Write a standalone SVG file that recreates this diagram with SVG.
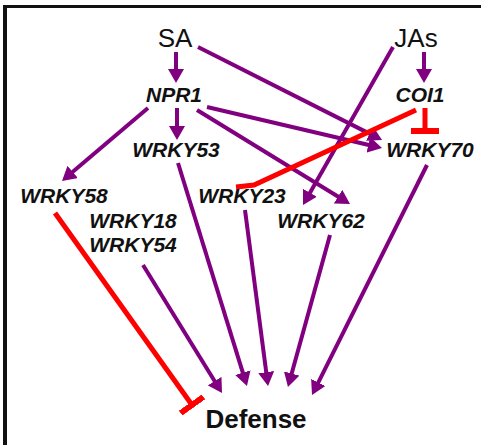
<svg xmlns="http://www.w3.org/2000/svg" width="481" height="445" viewBox="0 0 481 445">
<style>
  .lbl { font-family: "Liberation Sans", Arial, sans-serif; font-size: 26px; fill: #111; text-anchor: middle; }
  .gene { font-family: "Liberation Sans", Arial, sans-serif; font-size: 21px; font-weight: bold; font-style: italic; fill: #111; text-anchor: middle; }
  .act { stroke: #800080; stroke-width: 4; fill: none; marker-end: url(#arrow); }
  .inh { stroke: #ff0000; stroke-width: 5; fill: none; }
</style>
<defs>
  <marker id="arrow" viewBox="0 0 14 16" refX="6" refY="8" markerWidth="14" markerHeight="16" markerUnits="userSpaceOnUse" orient="auto">
    <path d="M0,0 L14,8 L0,16 Z" fill="#800080"/>
  </marker>
  <marker id="tee" viewBox="0 0 6 28" refX="3" refY="14" markerWidth="6" markerHeight="28" markerUnits="userSpaceOnUse" orient="auto">
    <rect x="0" y="0" width="6" height="28" fill="#ff0000"/>
  </marker>
</defs>
<rect x="0" y="0" width="481" height="445" fill="#ffffff"/>
<g id="frame">
  <rect x="3" y="5" width="478" height="3" fill="#111"/>
  <rect x="3" y="5" width="4" height="440" fill="#111"/>
</g>
<g id="connectors">
  <line class="act" x1="176" y1="52" x2="176" y2="75"/>
  <line class="act" x1="198" y1="47" x2="374.9" y2="136.4"/>
  <line class="act" x1="148" y1="108" x2="68.1" y2="175.8"/>
  <line class="act" x1="177" y1="108" x2="177" y2="132"/>
  <line class="act" x1="207" y1="107" x2="374.2" y2="146.2"/>
  <line class="act" x1="197" y1="110" x2="343.2" y2="199.8"/>
  <line class="act" x1="424" y1="52" x2="424" y2="75"/>
  <line class="act" x1="393" y1="47" x2="307" y2="198"/>
  <line class="act" x1="178" y1="163" x2="244.6" y2="378.4"/>
  <line class="act" x1="245" y1="210" x2="267" y2="378.1"/>
  <line class="act" x1="330" y1="235" x2="290.1" y2="379.3"/>
  <line class="act" x1="427" y1="165" x2="315.6" y2="387.8"/>
  <line class="act" x1="143" y1="265" x2="217.8" y2="386.2"/>
  <path class="inh" d="M416,110 L254,185 L236,187" stroke-width="6"/>
  <line class="inh" x1="425" y1="108" x2="425" y2="131" marker-end="url(#tee)"/>
  <line class="inh" x1="55" y1="213" x2="192" y2="405" marker-end="url(#tee)"/>
</g>
<g id="SA"><text class="lbl" x="175" y="47">SA</text></g>
<g id="JAs"><text class="lbl" x="416" y="47">JAs</text></g>
<g id="NPR1"><text class="gene" x="174" y="102">NPR1</text></g>
<g id="COI1"><text class="gene" x="420" y="102">COI1</text></g>
<g id="WRKY53"><text class="gene" x="176" y="157">WRKY53</text></g>
<g id="WRKY70"><text class="gene" x="430" y="157">WRKY70</text></g>
<g id="WRKY58"><text class="gene" x="64" y="203">WRKY58</text></g>
<g id="WRKY23"><text class="gene" x="242" y="203">WRKY23</text></g>
<g id="WRKY62"><text class="gene" x="321" y="228">WRKY62</text></g>
<g id="WRKY18_54"><text class="gene" x="133" y="228">WRKY18</text><text class="gene" x="133" y="252">WRKY54</text></g>
<g id="Defense"><text class="lbl" x="256" y="428" font-size="25" font-weight="bold">Defense</text></g>
</svg>
